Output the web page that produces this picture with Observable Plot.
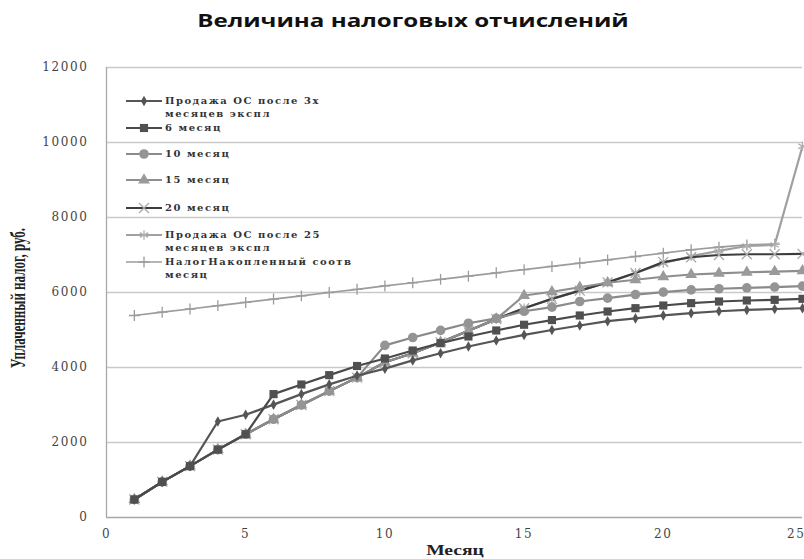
<!DOCTYPE html>
<html><head><meta charset="utf-8">
<script src="https://cdn.jsdelivr.net/npm/d3@7"></script>
<script src="https://cdn.jsdelivr.net/npm/@observablehq/plot@0.6"></script>
<style>
html,body{margin:0;padding:0;background:#fff;width:804px;height:559px;overflow:hidden;}
#title{height:45px;text-align:center;font-family:"Open Sans",sans-serif;font-weight:bold;font-size:17px;color:#111;line-height:42px;}
#title span{display:inline-block;transform:scaleX(1.42);margin-left:22px;}
#wrap{position:relative;width:804px;height:514px;}
#legend{position:absolute;left:0;top:-45px;width:0;height:0;}
.lg{position:absolute;left:126px;height:14px;}
.lg svg{position:absolute;left:0;top:0;}
.lg .t{position:absolute;left:39px;top:0;white-space:nowrap;font-family:"DejaVu Serif",serif;font-weight:bold;font-size:10px;letter-spacing:1.5px;color:#333;line-height:13px;}
</style></head>
<body>
<div id="title"><span>Величина налоговых отчислений</span></div>
<div id="wrap"><div id="chart"></div><div id="legend"></div></div>
<script>
const months = [1,2,3,4,5,6,7,8,9,10,11,12,13,14,15,16,17,18,19,20,21,22,23,24,25];
const xTicks = [0,5,10,15,20,25];
const yTicks = [0,2000,4000,6000,8000,10000,12000];

const sale3  = [480,950,1370,2560,2740,3010,3290,3550,3780,3970,4190,4380,4560,4720,4870,5000,5120,5235,5310,5390,5450,5500,5535,5560,5580];
const sale6  = [480,950,1370,1810,2220,3290,3547,3796,4040,4240,4453,4649,4827,4987,5140,5265,5387,5493,5582,5653,5716,5760,5787,5804,5831];
const sale10 = [480,950,1370,1810,2220,2620,3000,3370,3730,4590,4800,4990,5180,5310,5500,5610,5760,5850,5945,6010,6070,6100,6125,6145,6170];
const sale15 = [480,950,1370,1810,2220,2620,3000,3370,3730,4140,4380,4670,4980,5290,5920,6020,6140,6260,6340,6420,6480,6510,6540,6555,6575];
const sale20 = [480,950,1370,1810,2220,2620,3000,3370,3730,4140,4380,4670,4980,5290,5580,5830,6050,6270,6520,6810,6940,7000,7020,7020,7030];
const sale25 = [480,950,1370,1810,2220,2620,3000,3370,3730,4140,4380,4670,4980,5290,5580,5830,6050,6270,6520,6780,6970,7110,7240,7270,9900];
const accum  = [5387,5475,5560,5650,5735,5825,5910,6000,6085,6175,6260,6350,6435,6525,6610,6695,6785,6870,6960,7050,7140,7210,7270,7290];

const names = [
  ["Продажа ОС после 3х","месяцев экспл"],
  ["6 месяц"],
  ["10 месяц"],
  ["15 месяц"],
  ["20 месяц"],
  ["Продажа ОС после 25","месяцев экспл"],
  ["НалогНакопленный соотв","месяц"]
];

const series = [
  {name:names[0], values:sale3,  line:"#555555", mark:"#555555", symbol:"diamond", r:3.2, sw:2.2, filled:true},
  {name:names[1], values:sale6,  line:"#4a4a4a", mark:"#505050", symbol:"square",  r:4.6, sw:2.2, filled:true},
  {name:names[2], values:sale10, line:"#8a8a8a", mark:"#949494", symbol:"circle",  r:4.8, sw:2.2, filled:true},
  {name:names[3], values:sale15, line:"#8e8e8e", mark:"#9a9a9a", symbol:"triangle",r:4.4, sw:2.2, filled:true},
  {name:names[4], values:sale20, line:"#3c3c3c", mark:"#a8a8a8", symbol:"times",   r:4.6, sw:2.2, filled:false},
  {name:names[5], values:sale25, line:"#a0a0a0", mark:"#b0b0b0", symbol:"asterisk",r:4.6, sw:2.2, filled:false},
  {name:names[6], values:accum,  line:"#9c9c9c", mark:"#9c9c9c", symbol:"plus",    r:3.6, sw:1.7, filled:false}
];

const rows = s => s.values.map((v,i)=>({month:months[i], value:v}));
const drawOrder = [6,5,4,3,2,0,1];

const marks = [
  Plot.ruleY(yTicks.filter(d=>d>0), {stroke:"#c9c9c9", strokeWidth:1.3}),
  Plot.ruleY([0], {stroke:"#a8a8a8", strokeWidth:1.3}),
  Plot.ruleX([0], {stroke:"#a8a8a8", strokeWidth:1.3})
];
for (const k of drawOrder) {
  const s = series[k];
  const d = rows(s);
  marks.push(Plot.line(d, {x:"month", y:"value", stroke:s.line, strokeWidth:s.sw}));
  marks.push(Plot.dot(d, s.filled
    ? {x:"month", y:"value", symbol:()=>s.symbol, r:s.r, fill:s.mark, stroke:"none"}
    : {x:"month", y:"value", symbol:()=>s.symbol, r:s.r, stroke:s.mark, strokeWidth:1.3, fill:"none"}));
}

const chart = Plot.plot({
  width:804, height:514,
  marginTop:22, marginBottom:42, marginLeft:106, marginRight:2,
  style:{fontFamily:"DejaVu Serif, serif", fontSize:"12px", color:"#444", background:"#fff", overflow:"hidden"},
  x:{domain:[0,25], ticks:xTicks, tickSize:0, tickPadding:12, label:null, tickFormat:d=>String(d)},
  y:{domain:[0,12000], ticks:yTicks, tickSize:0, tickPadding:18, label:null, tickFormat:d=>String(d)},
  symbol:{type:"identity"},
  marks
});
document.getElementById("chart").appendChild(chart);

const svg = d3.select(chart);
svg.selectAll("[aria-label='x-axis tick label'] text, [aria-label='y-axis tick label'] text").style("letter-spacing","1.6px");
// keep the last x tick label inside the picture
const xl = svg.selectAll("[aria-label='x-axis tick label'] text").nodes();
if (xl.length) d3.select(xl[xl.length-1]).attr("text-anchor","end").attr("dx","3");

svg.append("text")
  .attr("transform","translate(20,253) rotate(-90) scale(1,1.55)")
  .attr("text-anchor","middle").attr("dominant-baseline","middle")
  .style("font-family","Liberation Serif, serif").style("font-weight","bold").style("font-size","13px").style("fill","#222")
  .text("Уплаченный налог, руб.");

svg.append("text")
  .attr("transform","translate(455,507) scale(1.4,1)")
  .attr("text-anchor","middle").attr("dominant-baseline","middle")
  .style("font-family","Liberation Serif, serif").style("font-weight","bold").style("font-size","14px").style("fill","#222")
  .text("Месяц");

// legend
const lgTops = [101,128,154,180,208,235,262];
const lg = d3.select("#legend");
series.forEach((s,i)=>{
  const row = lg.append("div").attr("class","lg").style("top",(lgTops[i]-7)+"px");
  const sv = row.append("svg").attr("width",38).attr("height",14);
  sv.append("line").attr("x1",0).attr("x2",36).attr("y1",7).attr("y2",7).attr("stroke",s.line).attr("stroke-width",s.sw);
  const sym = {diamond:d3.symbolDiamond, square:d3.symbolSquare, circle:d3.symbolCircle, triangle:d3.symbolTriangle, times:d3.symbolTimes, asterisk:d3.symbolAsterisk, plus:d3.symbolPlus}[s.symbol];
  const p = sv.append("path").attr("transform","translate(18,7)").attr("d", d3.symbol(sym, Math.PI*s.r*s.r)());
  if (s.filled) p.attr("fill",s.mark); else p.attr("fill","none").attr("stroke",s.mark).attr("stroke-width",1.3);
  row.append("div").attr("class","t").html(s.name.join("<br>"));
});
</script>
</body></html>
